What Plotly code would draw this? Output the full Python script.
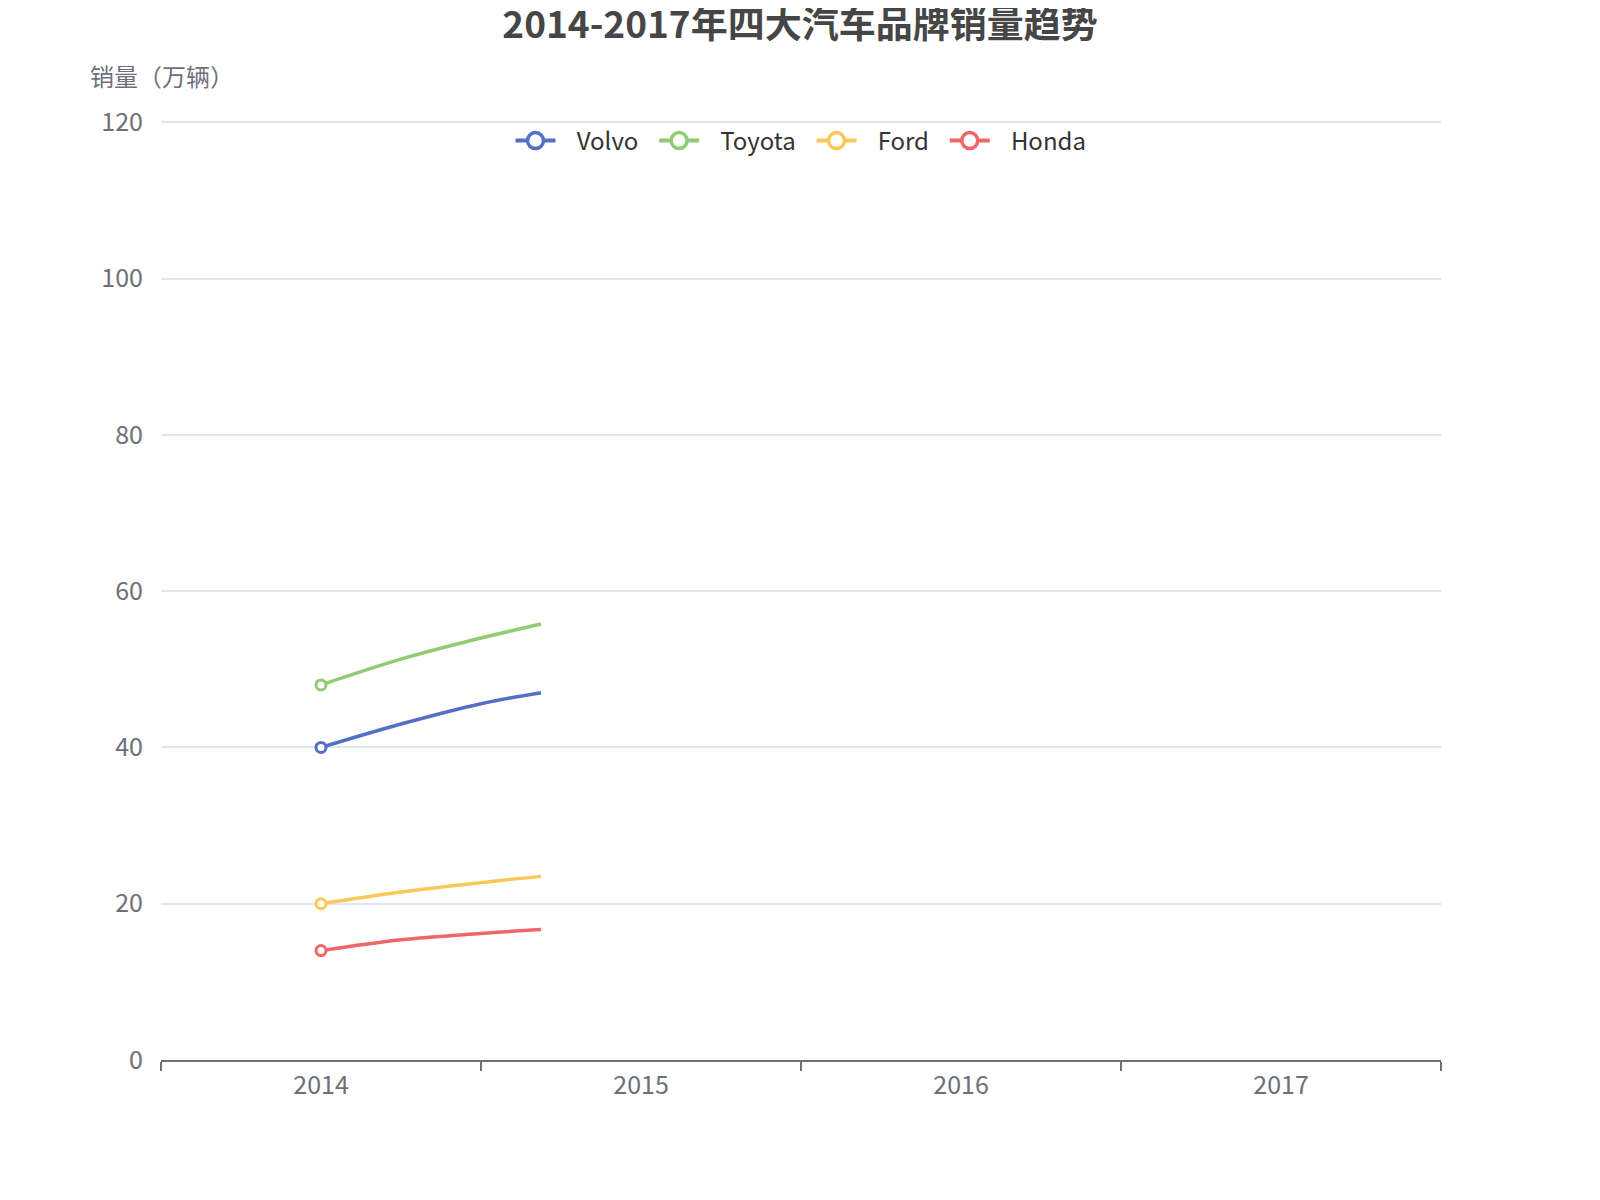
import plotly.graph_objects as go

# categories on the x axis
years = ["2014", "2015", "2016", "2017"]

brands = ["Volvo", "Toyota", "Ford", "Honda"]
colors = ["#5470c6", "#91cc75", "#fac858", "#ee6666"]

# the chart was captured while the line animation was running:
# each line has only been drawn part of the way from 2014 towards 2015
drawn_pos = [0, 0.25, 0.5, 0.6875]   # position along the category axis (0 = 2014)
volvo = [40, 43.0, 45.6, 47.0]
toyota = [48, 51.3, 54.0, 55.8]
ford = [20, 21.5, 22.7, 23.5]
honda = [14, 15.4, 16.2, 16.7]
series = [volvo, toyota, ford, honda]

font_family = "Noto Sans CJK SC, Noto Sans, sans-serif"
axis_grey = "#6E7079"
nb = "\u00a0"

# the page body has an 8px margin, so the figure is shifted to line up with the reference
fig = go.Figure()

for i, (name, vals, col) in enumerate(zip(brands, series, colors)):
    # the visible part of the line
    fig.add_trace(go.Scatter(
        x=drawn_pos, y=vals, mode="lines", line=dict(color=col, width=3.5, shape="spline", smoothing=1.0),
        showlegend=False, hoverinfo="skip",
    ))
    # symbol on the first (2014) data point
    fig.add_trace(go.Scatter(
        x=drawn_pos[:1], y=vals[:1], mode="markers",
        marker=dict(symbol="circle", size=10, color="white", line=dict(color=col, width=3)),
        showlegend=False, name=name,
    ))
    # legend entry (padded so the entries spread like the reference)
    label = nb * 3 + name + (nb * 2 if i < len(brands) - 1 else "")
    fig.add_trace(go.Scatter(
        x=[None], y=[None], mode="lines+markers", name=label,
        line=dict(color=col, width=4),
        marker=dict(symbol="circle", size=16, color="white", line=dict(color=col, width=3.5)),
    ))

fig.update_layout(
    width=1600, height=1200,
    margin=dict(l=153, r=167, t=112, b=148),
    paper_bgcolor="white", plot_bgcolor="white",
    font=dict(family=font_family, color=axis_grey, size=24),
    title=dict(
        text="<b>2014-2017年四大汽车品牌销量趋势</b>",
        x=0.495, xanchor="center", y=1 - 4 / 1200, yanchor="top",
        font=dict(size=37, color="#464646", family=font_family),
    ),
    legend=dict(
        orientation="h", x=0.5, xanchor="center", y=0.9777, yanchor="middle",
        font=dict(size=24, color="#333333"), itemwidth=40, bgcolor="rgba(0,0,0,0)",
    ),
    showlegend=True,
)

fig.update_xaxes(
    range=[-0.5, 3.5], tickvals=list(range(len(years))), ticktext=years,
    ticks="", showgrid=False, zeroline=False,
    showline=True, linecolor=axis_grey, linewidth=2,
    tickfont=dict(size=25, color=axis_grey), ticklabelstandoff=2,
    minor=dict(tickvals=[i - 0.5 for i in range(len(years) + 1)], ticks="outside",
               ticklen=9, tickwidth=2, tickcolor=axis_grey, showgrid=False),
)

fig.update_yaxes(
    range=[0, 120.3], tickvals=[0, 20, 40, 60, 80, 100, 120],
    showgrid=True, gridcolor="#E0E6F1", gridwidth=2,
    zeroline=False, showline=False, ticks="",
    tickfont=dict(size=25, color=axis_grey), ticklabelstandoff=17,
)

fig.add_annotation(
    text="销量（万辆）", xref="paper", yref="paper",
    x=(88 - 161) / 1280, y=(1060 - 75) / 940, xanchor="left", yanchor="middle",
    showarrow=False, font=dict(size=24, color=axis_grey),
)

fig.write_html("out.html")
